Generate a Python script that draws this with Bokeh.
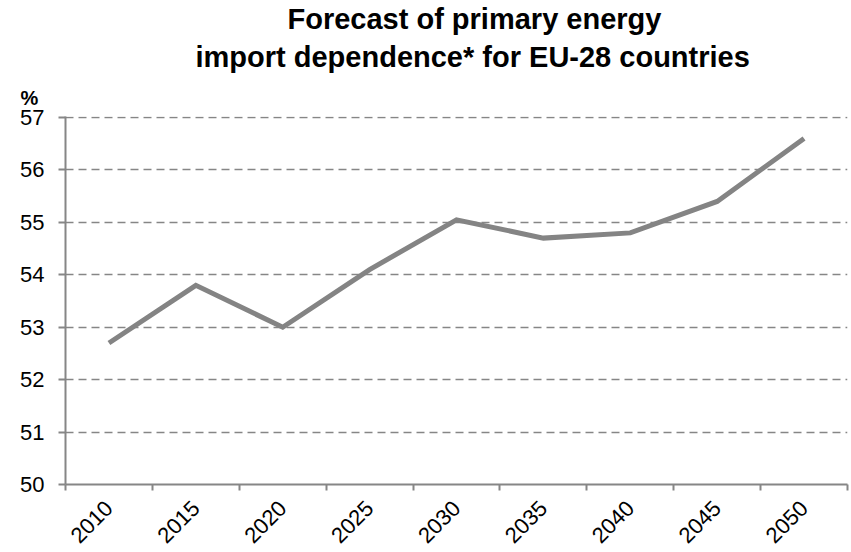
from bokeh.plotting import figure
from bokeh.models import FixedTicker, Range1d, Title
from bokeh.embed import file_html
from bokeh.resources import INLINE
import math

# Forecast of primary energy import dependence, EU-28 (%)
years = [2010, 2015, 2020, 2025, 2030, 2035, 2040, 2045, 2050]
dependence = [52.7, 53.8, 53.0, 54.1, 55.05, 54.7, 54.8, 55.4, 56.6]
y_ticks = [50, 51, 52, 53, 54, 55, 56, 57]
title_lines = ["Forecast of primary energy", "import dependence* for EU-28 countries"]
unit_label = "%"

W, H = 851, 552
FONT = "Liberation Sans"
GREY = "#868686"

x_lo, x_hi = years[0] - 2.5, years[-1] + 2.5

p = figure(width=W, height=H, output_backend="svg", toolbar_location=None,
           x_range=Range1d(x_lo, x_hi),
           y_range=Range1d(y_ticks[0], y_ticks[-1] + 0.02),
           min_border_left=65, min_border_right=4,
           min_border_top=0, min_border_bottom=68)
p.outline_line_color = None
p.background_fill_color = "white"
p.border_fill_color = "white"

# x axis: labels at each year, tick marks on the category boundaries
bounds = [y - 2.5 for y in years] + [years[-1] + 2.5]
p.xaxis.ticker = FixedTicker(ticks=years, minor_ticks=bounds)
p.xaxis.major_tick_line_color = None
p.xaxis.minor_tick_line_color = GREY
p.xaxis.minor_tick_line_width = 2
p.xaxis.minor_tick_out = 6
p.xaxis.minor_tick_in = 0
p.xaxis.major_label_orientation = math.pi / 4
p.xaxis.major_label_standoff = 14
p.xgrid.grid_line_color = None

p.yaxis.ticker = FixedTicker(ticks=y_ticks)
p.yaxis.minor_tick_line_color = None
p.yaxis.major_tick_line_color = GREY
p.yaxis.major_tick_line_width = 2
p.yaxis.major_tick_out = 7
p.yaxis.major_tick_in = 0
p.yaxis.major_label_standoff = 14

for ax in (p.xaxis, p.yaxis):
    ax.axis_line_color = GREY
    ax.axis_line_width = 2
    ax.major_label_text_font = FONT
    ax.major_label_text_font_size = "22px"
    ax.major_label_text_color = "black"

p.ygrid.grid_line_color = GREY
p.ygrid.grid_line_width = 1.5
p.ygrid.grid_line_dash = "8 5"

p.line(years, dependence, line_color="#848484", line_width=5, line_join="miter")

# panels above the frame, from the frame outward: unit, title line 2, title line 1
p.add_layout(Title(text=unit_label, align="left", offset=-45, standoff=15,
                   text_font=FONT, text_font_style="bold", text_font_size="20px",
                   text_color="black"), "above")
p.add_layout(Title(text=title_lines[1], align="left", offset=130, standoff=9,
                   text_font=FONT, text_font_style="bold", text_font_size="29px",
                   text_color="black"), "above")
p.add_layout(Title(text=title_lines[0], align="left", offset=222, standoff=0,
                   text_font=FONT, text_font_style="bold", text_font_size="29px",
                   text_color="black"), "above")

open("out.html", "w").write(file_html(p, INLINE))
